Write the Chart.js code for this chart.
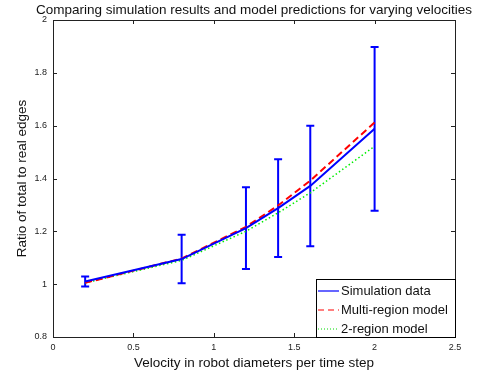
<!DOCTYPE html>
<html><head><meta charset="utf-8">
<script src="https://cdn.jsdelivr.net/npm/chart.js@4.4.0/dist/chart.umd.min.js"></script>
<style>html,body{margin:0;padding:0;background:#fff}canvas{display:block}</style>
</head><body>
<canvas id="c" width="479" height="380"></canvas>
<script>
const titleText = 'Comparing simulation results and model predictions for varying velocities';
const xTitle = 'Velocity in robot diameters per time step';
const yTitle = 'Ratio of total to real edges';
const velocities = [0.2, 0.8, 1.2, 1.4, 1.6, 2.0];
const simulation = [1.01, 1.095, 1.212, 1.288, 1.372, 1.588];
const simulationError = [0.019, 0.092, 0.155, 0.185, 0.228, 0.31];
const multiRegion = [1.005, 1.097, 1.217, 1.298, 1.392, 1.612];
const twoRegion = [1.005, 1.09, 1.2, 1.27, 1.346, 1.522];
const xTicks = [0, 0.5, 1, 1.5, 2, 2.5];
const yTicks = [0.8, 1, 1.2, 1.4, 1.6, 1.8, 2];
const seriesNames = ['Simulation data', 'Multi-region model', '2-region model'];

const FONT = '"Liberation Sans", Arial, Helvetica, sans-serif';
const pts = ys => velocities.map((v, i) => ({x: v, y: ys[i]}));

const decor = {
  id: 'decor',
  beforeDatasetsDraw(chart) {
    const {ctx, scales: {x, y}} = chart;
    ctx.save();
    ctx.strokeStyle = '#0000ff';
    ctx.lineWidth = 2;
    velocities.forEach((v, i) => {
      const px = x.getPixelForValue(v);
      const top = y.getPixelForValue(simulation[i] + simulationError[i]);
      const bot = y.getPixelForValue(simulation[i] - simulationError[i]);
      ctx.beginPath();
      ctx.moveTo(px, top); ctx.lineTo(px, bot);
      ctx.moveTo(px - 4, top); ctx.lineTo(px + 4, top);
      ctx.moveTo(px - 4, bot); ctx.lineTo(px + 4, bot);
      ctx.stroke();
    });
    ctx.restore();
  },
  afterDraw(chart) {
    const {ctx, chartArea: a, scales: {x, y}} = chart;
    ctx.save();
    ctx.strokeStyle = '#222';
    ctx.lineWidth = 1;
    ctx.strokeRect(Math.round(a.left) + 0.5, Math.round(a.top) + 0.5,
      Math.round(a.right - a.left), Math.round(a.bottom - a.top));
    ctx.beginPath();
    xTicks.forEach(v => {
      const px = Math.round(x.getPixelForValue(v)) + 0.5;
      ctx.moveTo(px, a.bottom); ctx.lineTo(px, a.bottom - 4);
      ctx.moveTo(px, a.top); ctx.lineTo(px, a.top + 4);
    });
    yTicks.forEach(v => {
      const py = Math.round(y.getPixelForValue(v)) + 0.5;
      ctx.moveTo(a.left, py); ctx.lineTo(a.left + 4, py);
      ctx.moveTo(a.right, py); ctx.lineTo(a.right - 4, py);
    });
    ctx.stroke();
    ctx.fillStyle = '#111';
    ctx.font = '13.5px ' + FONT;
    ctx.textAlign = 'center';
    ctx.textBaseline = 'middle';
    ctx.fillText(titleText, (a.left + a.right) / 2, 10);
    const lw = 139, lh = 58;
    const lx = Math.round(a.right) - lw, ly = Math.round(a.bottom) - lh;
    ctx.fillStyle = '#fff';
    ctx.fillRect(lx, ly, lw, lh);
    ctx.strokeStyle = '#000';
    ctx.strokeRect(lx + 0.5, ly + 0.5, lw, lh);
    const styles = [
      {c: '#0000ff', d: [], w: 1.2},
      {c: '#ff0000', d: [6, 4], w: 1.2},
      {c: '#00dd00', d: [1, 2], w: 1.2}
    ];
    seriesNames.forEach((n, i) => {
      const yy = ly + 12 + i * 19;
      ctx.strokeStyle = styles[i].c;
      ctx.lineWidth = styles[i].w;
      ctx.setLineDash(styles[i].d);
      ctx.beginPath();
      ctx.moveTo(lx + 2, yy); ctx.lineTo(lx + 23, yy);
      ctx.stroke();
      ctx.setLineDash([]);
      ctx.fillStyle = '#111';
      ctx.font = '13px ' + FONT;
      ctx.textAlign = 'left';
      ctx.fillText(n, lx + 25, yy);
    });
    ctx.restore();
  }
};

new Chart(document.getElementById('c'), {
  type: 'scatter',
  data: {
    datasets: [
      {label: seriesNames[0], data: pts(simulation), showLine: true, borderColor: '#0000ff', borderWidth: 2, pointRadius: 0, fill: false},
      {label: seriesNames[1], data: pts(multiRegion), showLine: true, borderColor: '#ff0000', borderWidth: 2, borderDash: [7, 4], pointRadius: 0, fill: false},
      {label: seriesNames[2], data: pts(twoRegion), showLine: true, borderColor: '#00ee00', borderWidth: 1.5, borderDash: [1.5, 2.5], pointRadius: 0, fill: false}
    ]
  },
  options: {
    responsive: false,
    animation: false,
    devicePixelRatio: 1,
    layout: {padding: {left: 0, right: 24, top: 20, bottom: 0}},
    plugins: {legend: {display: false}, title: {display: false}, tooltip: {enabled: false}},
    scales: {
      x: {
        type: 'linear', min: 0, max: 2.5,
        afterBuildTicks: s => { s.ticks = xTicks.map(v => ({value: v})); },
        afterFit: s => { s.height = 43; },
        grid: {display: false, drawTicks: false},
        border: {display: false},
        ticks: {padding: 5, color: '#222', font: {family: FONT, size: 9}, callback: v => String(v), autoSkip: false, maxRotation: 0},
        title: {display: true, text: xTitle, color: '#111', font: {family: FONT, size: 13.5}, padding: {top: 0, bottom: 9}}
      },
      y: {
        type: 'linear', min: 0.8, max: 2,
        afterBuildTicks: s => { s.ticks = yTicks.map(v => ({value: v})); },
        afterFit: s => { s.width = 53; },
        grid: {display: false, drawTicks: false},
        border: {display: false},
        ticks: {padding: 6, color: '#222', font: {family: FONT, size: 9}, callback: v => String(v), autoSkip: false},
        title: {display: true, text: yTitle, color: '#111', font: {family: FONT, size: 13.5}, padding: {top: 14, bottom: 0}}
      }
    }
  },
  plugins: [decor]
});
</script>
</body></html>
